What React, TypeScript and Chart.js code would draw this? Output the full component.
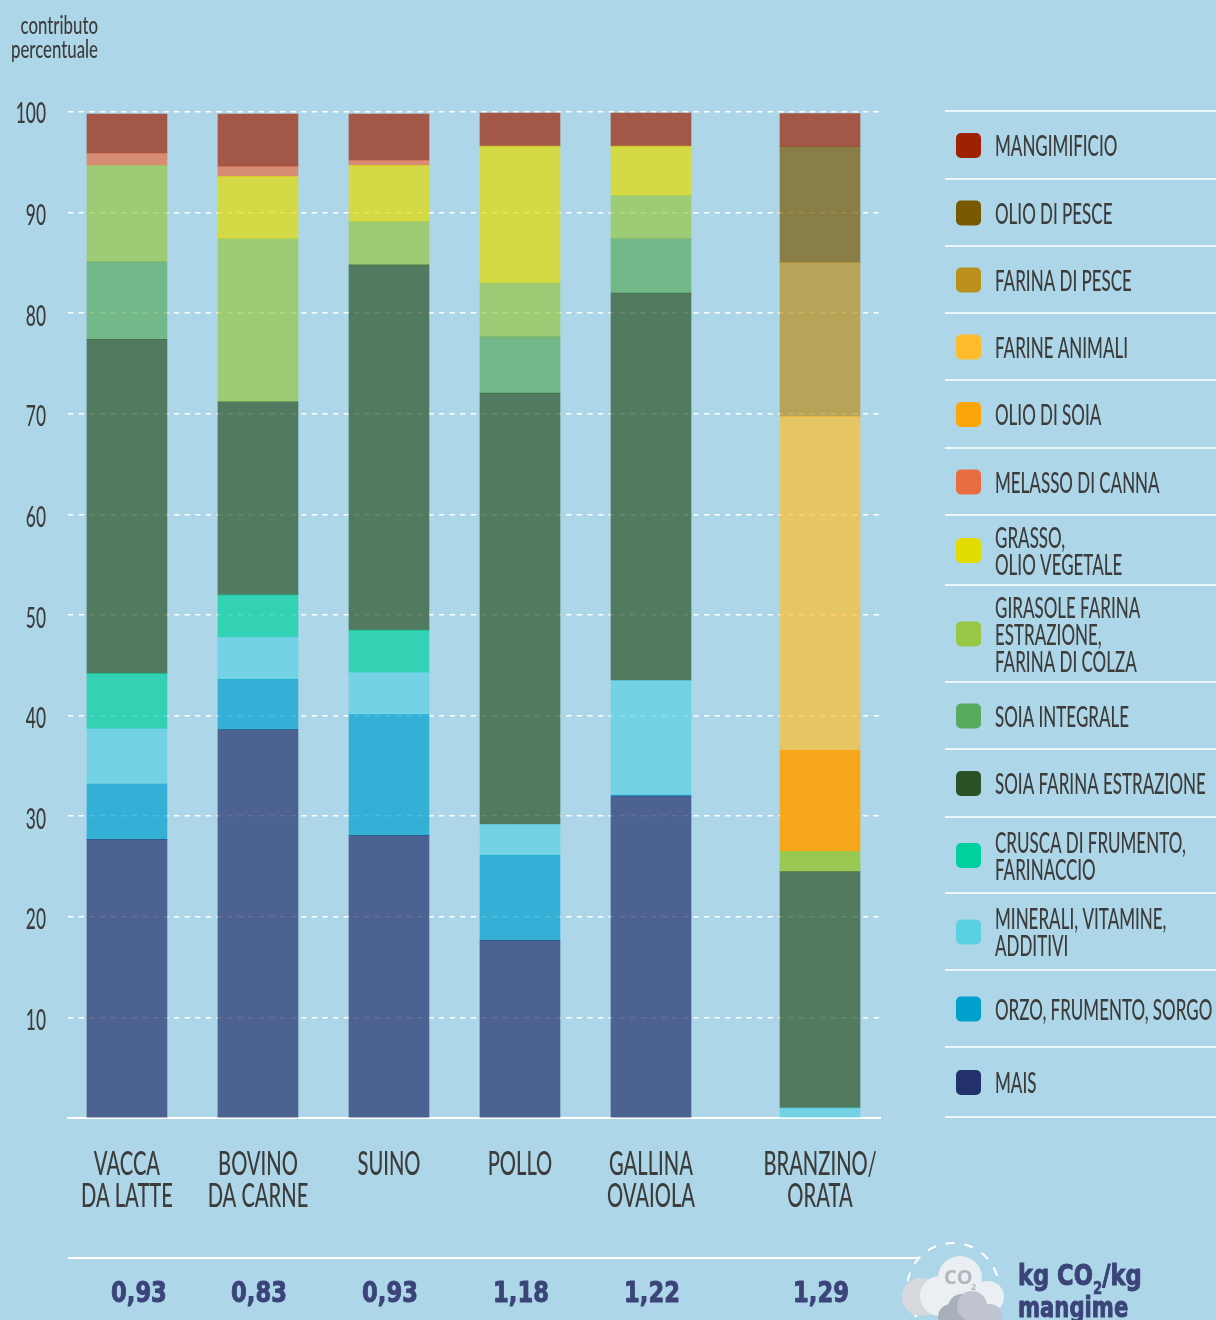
import React, { useEffect, useRef } from "react";
import { Chart, registerables } from "chart.js";

Chart.register(...registerables);

const BG = "#aed6e9";
const TEXT = "#3c3c3b";
const NAVY = "#3a4478";

const categories = [["VACCA", "DA LATTE"], ["BOVINO", "DA CARNE"], ["SUINO"], ["POLLO"], ["GALLINA", "OVAIOLA"], ["BRANZINO/", "ORATA"]];
const categoryAxisPositions = [0, 1, 2, 3, 4, 5.29];
const co2Labels = ["0,93", "0,83", "0,93", "1,18", "1,22", "1,29"];

const mais = [27.7, 38.6, 28.1, 17.65, 32.0, 0];
const orzo = [5.5, 5.0, 12.0, 8.45, 0.1, 0];
const minerali = [5.5, 4.2, 4.2, 3.1, 11.4, 1.0];
const crusca = [5.5, 4.2, 4.2, 0, 0, 0];
const soiaFarina = [33.2, 19.2, 36.3, 42.85, 38.5, 23.5];
const soiaIntegrale = [7.7, 0, 0, 5.6, 5.4, 0];
const girasole = [9.6, 16.2, 4.3, 5.35, 4.3, 2.0];
const grasso = [0, 6.2, 5.6, 13.6, 4.9, 0];
const melasso = [1.2, 1.0, 0.5, 0, 0, 0];
const olioSoia = [0, 0, 0, 0, 0, 10.05];
const farineAnimali = [0, 0, 0, 0, 0, 33.2];
const farinaPesce = [0, 0, 0, 0, 0, 15.3];
const olioPesce = [0, 0, 0, 0, 0, 11.5];
const mangimificio = [3.9, 5.2, 4.6, 3.3, 3.3, 3.3];

const yTicks = [10, 20, 30, 40, 50, 60, 70, 80, 90, 100];

type Series = { name: string[]; values: number[]; rgb: number[]; alpha: number[] };
const a7 = [0.7, 0.7, 0.7, 0.7, 0.7, 0.7];
const series: Series[] = [
  { name: ["MAIS"], values: mais, rgb: [34, 48, 107], alpha: a7 },
  { name: ["ORZO, FRUMENTO, SORGO"], values: orzo, rgb: [0, 160, 205], alpha: a7 },
  { name: ["MINERALI, VITAMINE,", "ADDITIVI"], values: minerali, rgb: [90, 209, 226], alpha: a7 },
  { name: ["CRUSCA DI FRUMENTO,", "FARINACCIO"], values: crusca, rgb: [0, 208, 158], alpha: a7 },
  { name: ["SOIA FARINA ESTRAZIONE"], values: soiaFarina, rgb: [42, 82, 38], alpha: a7 },
  { name: ["SOIA INTEGRALE"], values: soiaIntegrale, rgb: [88, 171, 94], alpha: a7 },
  { name: ["GIRASOLE FARINA", "ESTRAZIONE,", "FARINA DI COLZA"], values: girasole, rgb: [151, 199, 69], alpha: [0.7, 0.7, 0.7, 0.7, 0.7, 0.93] },
  { name: ["GRASSO,", "OLIO VEGETALE"], values: grasso, rgb: [226, 220, 0], alpha: a7 },
  { name: ["MELASSO DI CANNA"], values: melasso, rgb: [232, 109, 65], alpha: a7 },
  { name: ["OLIO DI SOIA"], values: olioSoia, rgb: [252, 165, 10], alpha: [1, 1, 1, 1, 1, 0.93] },
  { name: ["FARINE ANIMALI"], values: farineAnimali, rgb: [253, 189, 43], alpha: a7 },
  { name: ["FARINA DI PESCE"], values: farinaPesce, rgb: [186, 143, 26], alpha: a7 },
  { name: ["OLIO DI PESCE"], values: olioPesce, rgb: [120, 88, 0], alpha: a7 },
  { name: ["MANGIMIFICIO"], values: mangimificio, rgb: [158, 33, 2], alpha: a7 },
];

const legendRules = [111, 179, 246, 313, 380, 448, 515, 585, 682, 749, 817, 893, 970, 1047, 1117];

const HX = 0.78;
const narrow = (size: number) => `500 ${size}px Lato`;
const heavy = (size: number) => `bold ${size}px "DejaVu Sans"`;

function squeezed(ctx: CanvasRenderingContext2D, text: string, x: number, y: number, sx: number, bolder = 0) {
  ctx.save();
  ctx.translate(x, y);
  ctx.scale(sx, 1);
  if (bolder > 0) {
    ctx.strokeStyle = ctx.fillStyle;
    ctx.lineWidth = bolder;
    ctx.lineJoin = "round";
    ctx.strokeText(text, 0, 0);
  }
  ctx.fillText(text, 0, 0);
  ctx.restore();
}

const overlayPlugin = {
  id: "overlay",
  afterDraw(chart: any) {
    const ctx = chart.ctx as CanvasRenderingContext2D;
    ctx.save();
    ctx.textBaseline = "middle";

    // axis caption
    ctx.fillStyle = TEXT;
    ctx.font = narrow(24);
    ctx.textAlign = "right";
    squeezed(ctx, "contributo", 98, 26, 0.7);
    squeezed(ctx, "percentuale", 98, 50, 0.7);

    // y tick labels, placed through the value scale
    const yScale = chart.scales.y;
    ctx.font = narrow(28);
    yTicks.forEach((v) => {
      squeezed(ctx, String(v), 46, yScale.getPixelForValue(v) + (v === 100 ? 2 : 3.5), 0.62);
    });

    // category labels, placed through the x scale
    const x = chart.scales.x;
    ctx.textAlign = "center";
    ctx.font = narrow(33);
    categories.forEach((lines, i) => {
      lines.forEach((line, k) => {
        squeezed(ctx, line, x.getPixelForValue(categoryAxisPositions[i]), 1164 + k * 32, 0.61);
      });
    });

    // legend
    const rows = [...series].reverse();
    ctx.strokeStyle = "#ffffff";
    ctx.lineWidth = 1.5;
    legendRules.forEach((y) => {
      ctx.beginPath();
      ctx.moveTo(945, y);
      ctx.lineTo(1216, y);
      ctx.stroke();
    });
    ctx.textAlign = "left";
    ctx.font = narrow(29);
    rows.forEach((s, i) => {
      const cy = (legendRules[i] + legendRules[i + 1]) / 2 + 0.5;
      ctx.fillStyle = `rgb(${s.rgb.join(",")})`;
      ctx.beginPath();
      ctx.roundRect(956, cy - 12.5, 25, 25, 5);
      ctx.fill();
      ctx.fillStyle = TEXT;
      s.name.forEach((line, k) => {
        squeezed(ctx, line, 995, cy + 1.5 + (k - (s.name.length - 1) / 2) * 27, 0.585);
      });
    });

    // lower rule and CO2 values
    ctx.beginPath();
    ctx.moveTo(68, 1258);
    ctx.lineTo(920, 1258);
    ctx.lineWidth = 2;
    ctx.stroke();
    ctx.fillStyle = NAVY;
    ctx.textAlign = "center";
    ctx.font = heavy(29);
    co2Labels.forEach((t, i) => {
      squeezed(ctx, t, x.getPixelForValue(categoryAxisPositions[i]) + (i === 0 ? 12 : 1), 1294, HX, 1);
    });

    // unit label
    ctx.textAlign = "left";
    squeezed(ctx, "kg CO", 1018, 1277, HX, 1);
    const w = ctx.measureText("kg CO").width * HX;
    ctx.font = heavy(17);
    squeezed(ctx, "2", 1018 + w, 1290, HX, 0.6);
    const w2 = ctx.measureText("2").width * HX;
    ctx.font = heavy(29);
    squeezed(ctx, "/kg", 1018 + w + w2, 1277, HX, 1);
    squeezed(ctx, "mangime", 1018, 1309, 0.73, 1);
    ctx.restore();
  },
};

export default function App() {
  const ref = useRef<HTMLCanvasElement>(null);
  useEffect(() => {
    const chart = new Chart(ref.current as HTMLCanvasElement, {
      type: "bar",
      data: {
        datasets: series.map((s) => ({
          label: s.name.join(" "),
          data: s.values.map((v, i) => ({ x: categoryAxisPositions[i], y: v === 0 ? null : v })),
          backgroundColor: s.alpha.map((a) => `rgba(${s.rgb.join(",")},${a})`),
          borderWidth: 0,
          barThickness: 80,
        })),
      },
      options: {
        responsive: false,
        animation: false,
        devicePixelRatio: 1,
        layout: { padding: { top: 112, right: 336, left: 0, bottom: 0 } },
        plugins: { legend: { display: false }, tooltip: { enabled: false } },
        scales: {
          x: {
            type: "linear",
            stacked: true,
            offset: false,
            min: -0.45,
            max: 5.748,
            afterBuildTicks: (scale: any) => {
              scale.ticks = categoryAxisPositions.map((value) => ({ value }));
            },
            afterFit: (scale: any) => {
              scale.height = 202;
            },
            grid: { display: false },
            border: { display: true, color: "#ffffff", width: 2 },
            ticks: { display: false },
          },
          y: {
            stacked: true,
            min: 0,
            max: 100,
            afterBuildTicks: (scale: any) => {
              scale.ticks = [0, ...yTicks].map((value) => ({ value }));
            },
            afterFit: (scale: any) => {
              scale.width = 68;
            },
            border: { display: false, dash: [5.3, 5.3] },
            grid: {
              drawTicks: false,
              lineWidth: 1.5,
              color: (c: any) => (c.tick && c.tick.value === 0 ? "rgba(0,0,0,0)" : "#ffffff"),
            },
            ticks: { display: false },
          },
        },
      },
      plugins: [overlayPlugin],
    } as any);
    return () => chart.destroy();
  }, []);

  return (
    <div style={{ position: "absolute", left: 0, top: 0, width: 1216, height: 1320, background: BG, overflow: "hidden" }}>
      <canvas ref={ref} width={1216} height={1320} style={{ display: "block" }} />
      <svg width={1216} height={1320} style={{ position: "absolute", left: 0, top: 0, pointerEvents: "none" }}>
        <circle cx={953} cy={1289} r={46} fill="none" stroke="#ffffff" strokeWidth={2} strokeDasharray="9 10" />
        <g fill="#d8d9de">
          <circle cx={921} cy={1297} r={19} />
          <rect x={921} y={1300} width={30} height={15} />
        </g>
        <g fill="#e9eff2">
          <circle cx={960} cy={1278} r={22} />
          <circle cx={988} cy={1297} r={16} />
          <circle cx={940} cy={1296} r={20} />
          <rect x={932} y={1296} width={58} height={19} />
        </g>
        <text x={944} y={1284} fill="#b1b6bc" fontFamily="Open Sans" fontWeight={700} fontSize={20}>CO</text>
        <text x={971} y={1290} fill="#b1b6bc" fontFamily="Open Sans" fontWeight={700} fontSize={9}>2</text>
        <g fill="#a8b0b9">
          <circle cx={951} cy={1317} r={13} />
          <circle cx={962} cy={1308} r={14} />
        </g>
        <g fill="#bfc4d0">
          <circle cx={972} cy={1306} r={15} />
          <circle cx={990} cy={1316} r={12} />
          <rect x={965} y={1312} width={30} height={10} />
        </g>
      </svg>
    </div>
  );
}
